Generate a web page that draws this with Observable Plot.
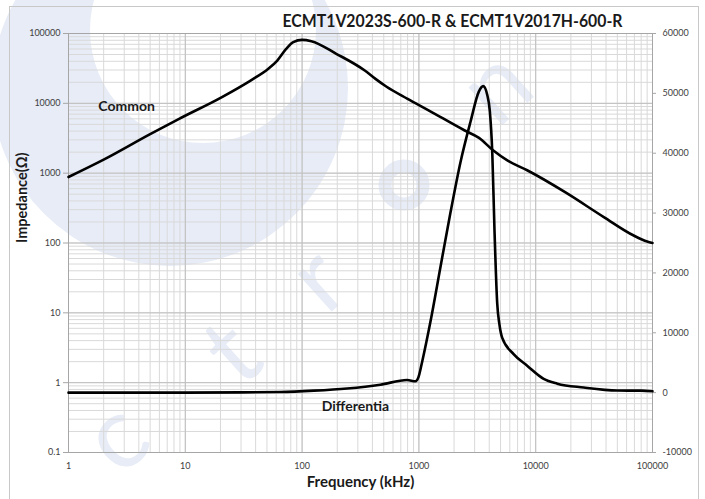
<!DOCTYPE html>
<html><head><meta charset="utf-8">
<script src="https://cdn.jsdelivr.net/npm/d3@7"></script>
<script src="https://cdn.jsdelivr.net/npm/@observablehq/plot@0.6"></script>
<style>
body{margin:0;background:#fff;}
#wrap{position:relative;width:705px;height:499px;overflow:hidden;background:#fff;}
#wm{position:absolute;left:0;top:0;}
#border{position:absolute;left:9px;top:6px;width:688px;height:600px;border:1px solid #c8c8c8;}
#chart{position:absolute;left:0;top:0;}
</style></head><body><div id="wrap">
<svg id="wm" width="705" height="499">
<path fill="#e7ecf7" fill-rule="evenodd" d="M -8 88 a 178 178 0 1 0 356 0 a 178 178 0 1 0 -356 0 Z M 90 30 a 113 113 0 1 0 226 0 a 113 113 0 1 0 -226 0 Z"/>
<circle cx="404" cy="185" r="19" fill="none" stroke="#e7ecf7" stroke-width="13"/>
<g fill="#e7ecf7" font-family="Lato, sans-serif" font-size="100" text-anchor="middle" dominant-baseline="central">
<text x="112" y="433" transform="rotate(-42 112 433)">c</text>
<text x="228" y="348" transform="rotate(-42 228 348)">t</text>
<text x="314" y="275" transform="rotate(-42 314 275)">r</text>
<text x="492" y="82" transform="rotate(-42 492 82)">n</text>
</g></svg>
<div id="border"></div><div id="chart"></div></div>
<script>
// Common mode impedance (left log axis, Ω) vs frequency (kHz)
const commonFreq = [1, 2, 5, 8.85, 20.6, 36.2, 51.4, 61.3, 73, 84, 100, 120, 196, 344, 425, 525, 800, 1220, 2470, 3270, 4340, 5760, 8450, 18000, 38300, 69000, 90000, 100000];
const commonZ    = [880, 1560, 3620, 6000, 12300, 21200, 31200, 41000, 60000, 75000, 81000, 77700, 51200, 29500, 22400, 17400, 11600, 7880, 4080, 3200, 2110, 1510, 1100, 530, 235, 128, 105, 100];
// Differential mode impedance (right linear axis, Ω) vs frequency (kHz)
const diffFreq = [1, 10, 30, 65, 126, 243, 468, 793, 935, 990, 1070, 1260, 1530, 1860, 2270, 2770, 3260, 3550, 3840, 4050, 4250, 4440, 4680, 4900, 5160, 6500, 8450, 11700, 15300, 25800, 50000, 80000, 100000];
const diffZ    = [0, 10, 40, 100, 330, 700, 1330, 2100, 1900, 2550, 5300, 12000, 21000, 30000, 38500, 45300, 50300, 51200, 49800, 47000, 40000, 27000, 15000, 11300, 9200, 6400, 4500, 2300, 1500, 850, 350, 330, 230];

const xTicks = [1, 10, 100, 1000, 10000, 100000];
const leftTicks = [0.1, 1, 10, 100, 1000, 10000, 100000];
const rightTicks = [-10000, 0, 10000, 20000, 30000, 40000, 50000, 60000];

const title = "ECMT1V2023S-600-R & ECMT1V2017H-600-R";
const labels = [{f: 3.14, z: 9000, text: "Common"}, {f: 286, z: 0.453, text: "Differentia"}];

// right linear axis [-10000, 60000] mapped onto the left log domain [0.1, 100000]
const rMin = -10000, rMax = 60000;
const toLeft = v => Math.pow(10, -1 + 6 * (v - rMin) / (rMax - rMin));

const common = commonFreq.map((f, i) => ({f, z: commonZ[i]}));
const diff = diffFreq.map((f, i) => ({f, z: toLeft(diffZ[i])}));

const xMinor = d3.scaleLog().domain([1, 100000]).ticks();
const yMinor = d3.scaleLog().domain([0.1, 100000]).ticks();

const font = "Lato, 'Open Sans', sans-serif";
const tickFill = "#404040";

const chart = Plot.plot({
  width: 705, height: 499,
  marginLeft: 68, marginRight: 53, marginTop: 33, marginBottom: 47,
  style: {fontFamily: font, background: "transparent", overflow: "visible"},
  x: {type: "log", domain: [1, 100000]},
  y: {type: "log", domain: [0.1, 100000]},
  marks: [
    Plot.ruleX(xMinor, {stroke: "#d9d9d9", strokeWidth: 1}),
    Plot.ruleY(yMinor, {stroke: "#d9d9d9", strokeWidth: 1}),
    Plot.ruleX(xTicks, {stroke: "#bfbfbf", strokeWidth: 1}),
    Plot.ruleY(leftTicks, {stroke: "#bfbfbf", strokeWidth: 1}),
    Plot.frame({stroke: "#a6a6a6", strokeWidth: 1}),
    Plot.axisX(xTicks, {anchor: "bottom", tickSize: 0, tickPadding: 10, tickFormat: d => String(d), fontSize: 9, fill: tickFill, label: null}),
    Plot.axisY(leftTicks, {anchor: "left", tickSize: 5, tickPadding: 3, tickFormat: d => String(d), fontSize: 9, fill: tickFill, stroke: "#a6a6a6", label: null}),
    Plot.tickY(rightTicks, {y: d => toLeft(d), frameAnchor: "right", stroke: "#a6a6a6"}),
    Plot.text(rightTicks, {y: d => toLeft(d), text: d => String(d), frameAnchor: "right", dx: 10, textAnchor: "start", fontSize: 9, fill: tickFill}),
    Plot.line(common, {x: "f", y: "z", curve: "monotone-x", stroke: "black", strokeWidth: 2.6}),
    Plot.line(diff, {x: "f", y: "z", curve: "monotone-x", stroke: "black", strokeWidth: 2.6}),
    Plot.text(labels, {x: "f", y: "z", text: "text", fontSize: 14, fontWeight: "bold", fill: "#1a1a1a"}),
    Plot.text([title], {frameAnchor: "top", lineAnchor: "middle", dx: 92, dy: -11.5, fontSize: 16.6, fontWeight: "bold", fill: "#1a1a1a"}),
    Plot.text(["Frequency (kHz)"], {frameAnchor: "bottom", lineAnchor: "middle", dy: 30, fontSize: 15, fontWeight: "bold", fill: "#1a1a1a"}),
    Plot.text(["Impedance(Ω)"], {frameAnchor: "left", dx: -46, rotate: -90, fontSize: 14.5, fontWeight: "bold", fill: "#1a1a1a"})
  ]
});
// right-axis tick marks: short ticks just outside the frame
chart.querySelectorAll("g[aria-label='tick'] line").forEach(l => {
  l.setAttribute("x1", 652); l.setAttribute("x2", 656);
});
// fit the title to the reference width
chart.querySelectorAll("text").forEach(t => {
  if (t.textContent === title) {
    t.setAttribute("textLength", 340);
    t.setAttribute("lengthAdjust", "spacingAndGlyphs");
  }
});
document.getElementById("chart").appendChild(chart);
</script>
</body></html>
